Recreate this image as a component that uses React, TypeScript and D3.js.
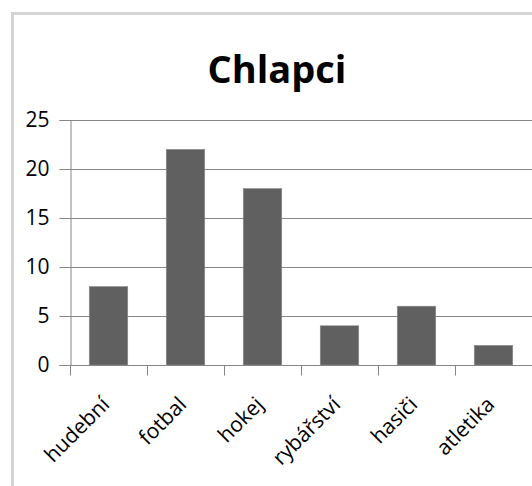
import { useEffect, useRef } from 'react';
import * as d3 from 'd3';

const categories = ['hudební', 'fotbal', 'hokej', 'rybářství', 'hasiči', 'atletika'];
const values = [8, 22, 18, 4, 6, 2];
const yTicks = [0, 5, 10, 15, 20, 25];
const title = 'Chlapci';

const width = 532;
const height = 486;

export default function App() {
  const svgRef = useRef<SVGSVGElement>(null);

  useEffect(() => {
    if (!svgRef.current) return;
    const svg = d3.select(svgRef.current);
    svg.selectAll('*').remove();

    const font = "'Open Sans', 'Liberation Sans', sans-serif";
    const plot = { left: 70, right: 532, top: 120, bottom: 365 };

    // chart frame, runs off the right and bottom edge
    svg.append('rect')
      .attr('x', 12.5)
      .attr('y', 13.5)
      .attr('width', 600)
      .attr('height', 600)
      .style('fill', 'white')
      .style('stroke', '#d4d4d4')
      .style('stroke-width', 3);

    svg.append('text')
      .attr('x', 277)
      .attr('y', 83)
      .attr('text-anchor', 'middle')
      .style('font-family', font)
      .style('font-weight', 700)
      .style('font-size', '38px')
      .style('fill', '#000')
      .text(title);

    const x = d3.scaleBand<string>()
      .domain(categories)
      .range([plot.left, plot.right])
      .paddingInner(0.5)
      .paddingOuter(0.25);

    const y = d3.scaleLinear()
      .domain([0, 25])
      .range([plot.bottom, plot.top]);

    const step = x.step();
    const lineColor = '#868686';

    // gridlines
    svg.append('g')
      .selectAll('line')
      .data(yTicks.filter(d => d > 0))
      .join('line')
      .attr('x1', plot.left)
      .attr('x2', plot.right)
      .attr('y1', d => Math.round(y(d)) + 0.5)
      .attr('y2', d => Math.round(y(d)) + 0.5)
      .style('stroke', lineColor)
      .style('stroke-width', 1);

    // bars
    svg.append('g')
      .selectAll('rect')
      .data(values)
      .join('rect')
      .attr('x', (d, i) => x(categories[i])!)
      .attr('y', d => y(d))
      .attr('width', x.bandwidth())
      .attr('height', d => y(0) - y(d))
      .style('fill', '#606060')
      .style('stroke', '#8a8a8a')
      .style('stroke-width', 0.6);

    // y axis
    const yAxis = svg.append('g')
      .attr('transform', `translate(${plot.left + 0.5},0)`)
      .call(d3.axisLeft(y).tickValues(yTicks).tickSize(11).tickPadding(10));
    yAxis.select('.domain').style('stroke', lineColor);
    yAxis.selectAll('.tick line').style('stroke', lineColor);
    yAxis.selectAll('.tick text')
      .style('font-family', font)
      .style('font-size', '21px')
      .style('fill', '#000');

    // x axis with ticks between categories
    const xLine = Math.round(y(0)) + 0.5;
    svg.append('line')
      .attr('x1', plot.left)
      .attr('x2', plot.right)
      .attr('y1', xLine)
      .attr('y2', xLine)
      .style('stroke', lineColor);

    const edges = d3.range(categories.length + 1).map(i => plot.left + i * step);
    svg.append('g')
      .selectAll('line')
      .data(edges)
      .join('line')
      .attr('x1', d => Math.round(d) + 0.5)
      .attr('x2', d => Math.round(d) + 0.5)
      .attr('y1', xLine)
      .attr('y2', xLine + 10)
      .style('stroke', lineColor);

    // rotated labels, ending just under the band centre
    svg.append('g')
      .selectAll('text')
      .data(categories)
      .join('text')
      .attr('transform', d => `translate(${x(d)! + x.bandwidth() / 2 - 9},${xLine + 29}) rotate(-45)`)
      .attr('text-anchor', 'end')
      .attr('dy', '0.76em')
      .style('font-family', font)
      .style('font-size', '21px')
      .style('fill', '#000')
      .text(d => d);
  }, []);

  return (
    <svg
      ref={svgRef}
      width={width}
      height={height}
      style={{ position: 'absolute', left: 0, top: 0, background: 'white' }}
    />
  );
}
